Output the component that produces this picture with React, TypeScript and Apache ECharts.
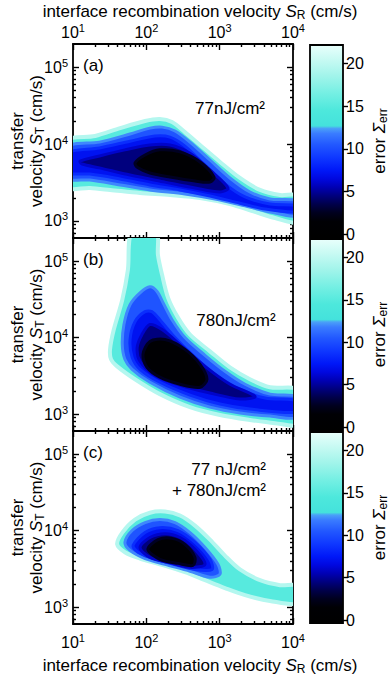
import React, { useEffect, useRef } from 'react';
import * as echarts from 'echarts';

const FONT = '"Liberation Sans", Arial, Helvetica, sans-serif';

// ---------- axes ----------
const X_MIN = 10;
const X_MAX = 10000;
const Y_MIN = 600;
const Y_MAX = 200000;
const X_MAJOR = [10, 100, 1000, 10000];
const X_MINOR = [20, 30, 40, 50, 60, 70, 80, 90, 200, 300, 400, 500, 600, 700, 800, 900, 2000, 3000, 4000, 5000, 6000, 7000, 8000, 9000];
const Y_MAJOR = [1000, 10000, 100000];
const Y_MINOR = [700, 800, 900, 2000, 3000, 4000, 5000, 6000, 7000, 8000, 9000, 20000, 30000, 40000, 50000, 60000, 70000, 80000, 90000];
const ERR_MIN = -0.35;
const ERR_MAX = 22.2;
const ERR_TICKS = [0, 5, 10, 15, 20];

const PANEL_LABELS = ['(a)', '(b)', '(c)'];
const FLUENCE_LABELS = [['77nJ/cm²'], ['780nJ/cm²'], ['77 nJ/cm²', '+ 780nJ/cm²']];

// colormap of the error Σerr (value, colour)
const CMAP: [number, string][] = [
  [-0.35, '#000000'], [1.5, '#000004'], [2.5, '#00001e'], [3.5, '#00004a'], [4.5, '#00007e'],
  [5.5, '#0000b4'], [6.5, '#0008e0'], [7.5, '#0018f8'], [9, '#0f38ff'], [10.5, '#2258ff'],
  [11.8, '#3a7cff'], [12.4, '#4aa0f8'], [12.7, '#44e2dc'], [14.5, '#4de8dc'], [16.5, '#74efe3'],
  [18.5, '#a0f4ea'], [20.5, '#c8faf3'], [22.2, '#e9fffc'],
];

// ---------- contour outlines [S_R, S_T] ----------
// panel (a) 77 nJ/cm²
const A_OUTER = [[8, 10900], [20, 12700], [44, 16100], [96, 19900], [153, 21100], [224, 19300], [336, 14300], [540, 9700], [1010, 5850], [1890, 3620], [3550, 2530], [6650, 2170], [12000, 2110], [12000, 970], [5690, 1090], [3030, 1310], [1380, 1660], [540, 1990], [210, 2170], [82, 2310], [32, 2530], [17, 2680], [8, 2770]];
const A_BLUE = [[8, 9100], [23, 10600], [60, 13500], [112, 16100], [164, 16600], [246, 14800], [394, 10600], [738, 6200], [1380, 3620], [2590, 2380], [4860, 1930], [12000, 1800], [12000, 1160], [4860, 1310], [2220, 1570], [863, 1930], [336, 2240], [112, 2530], [37, 3030], [17, 3400], [8, 3620]];
const A_MID = [[8, 7600], [23, 8900], [60, 10900], [131, 12700], [210, 12300], [336, 9400], [631, 5300], [1180, 3030], [2220, 2050], [4860, 1660], [12000, 1570], [12000, 1310], [4150, 1430], [1890, 1700], [738, 2110], [288, 2530], [112, 2940], [37, 3620], [17, 4070], [8, 4300]];
const A_NAVY = [[12.5, 6000], [23, 7000], [51, 8400], [112, 9700], [210, 9700], [394, 7600], [738, 4600], [1300, 2680], [1010, 2380], [461, 2680], [180, 3200], [60, 3950], [23, 4900], [13.3, 5500]];
const A_CORE = [[70, 5670], [96, 7200], [153, 8400], [288, 7900], [540, 5850], [838, 3720], [738, 3200], [461, 3300], [210, 3720], [112, 4200], [77, 4900]];

// panel (b) 780 nJ/cm²
const B_OUTER = [[64, 250000], [56, 76000], [47, 31200], [36, 12700], [32, 7000], [33, 5200], [40, 4200], [70, 2850], [153, 1820], [394, 1230], [1010, 970], [2590, 835], [5690, 760], [12000, 740], [12000, 2050], [4860, 2240], [2590, 2850], [1380, 4070], [738, 6600], [394, 10900], [270, 18200], [198, 33000], [164, 66000], [144, 120000], [136, 250000]];
const B_BLUE = [[112, 46000], [82, 38400], [60, 26900], [49.5, 14800], [47, 8100], [51, 5200], [64, 3840], [112, 2600], [288, 1660], [738, 1230], [1890, 1030], [4860, 940], [12000, 910], [12000, 1660], [4860, 1820], [2220, 2450], [1180, 3620], [631, 5850], [336, 10000], [224, 17100], [169, 28500], [140, 40000]];
const B_MID = [[96, 21800], [70, 16100], [60, 9400], [64, 5500], [82, 3840], [153, 2600], [394, 1770], [1010, 1350], [2590, 1160], [12000, 1060], [12000, 1480], [4150, 1620], [1890, 2110], [863, 3300], [461, 5500], [246, 10000], [153, 17100], [119, 21800]];
const B_NAVY = [[87, 10900], [112, 14800], [164, 12700], [288, 8100], [631, 4200], [1380, 2450], [3030, 1700], [1890, 1570], [738, 1880], [288, 2380], [131, 3200], [82, 4900], [75, 7400]];
const B_CORE = [[90, 6000], [112, 8900], [180, 9400], [336, 7000], [540, 4450], [672, 2850], [540, 2240], [288, 2450], [153, 3030], [102, 4070]];

// panel (c) 77 + 780 nJ/cm²
const C_OUTER = [[40, 6600], [47, 9400], [70, 13900], [112, 17100], [180, 17700], [288, 15700], [461, 11600], [738, 7600], [1180, 4700], [1890, 3100], [3550, 2240], [6650, 1930], [12000, 1880], [12000, 1120], [4860, 1200], [2220, 1430], [1180, 1770], [631, 2240], [336, 2850], [153, 3620], [82, 4300], [51, 5200]];
const C_BLUE = [[51, 7000], [64, 10000], [96, 12700], [153, 13900], [246, 12700], [394, 9400], [631, 6000], [948, 3620], [1010, 2680], [738, 2450], [394, 2940], [180, 3620], [96, 4300], [60, 5500]];
const C_MID = [[66, 6400], [96, 9400], [153, 10900], [270, 10000], [461, 7000], [738, 4200], [787, 3100], [461, 3100], [210, 3720], [112, 4450], [77, 5200]];
const C_NAVY = [[82, 6000], [112, 8100], [180, 9100], [288, 8100], [461, 5670], [631, 3620], [394, 3300], [198, 3840], [112, 4450]];
const C_CORE = [[105, 5670], [144, 7600], [224, 7900], [336, 6600], [461, 4450], [433, 3500], [270, 3720], [153, 4200]];

type Contour = { pts: number[][]; fill: number; stroke?: number; lw?: number };
const mk = (o: number[][], b: number[][], m: number[][], n: number[][], c: number[][]): Contour[] => [
  { pts: o, fill: 15, stroke: 19.5, lw: 4 },
  { pts: b, fill: 10.3, stroke: 12, lw: 3 },
  { pts: m, fill: 7.2, stroke: 8.5, lw: 3 },
  { pts: n, fill: 4.5, stroke: 6, lw: 3 },
  { pts: c, fill: 1.2, stroke: 2.6, lw: 3 },
];
const PANELS: Contour[][] = [
  mk(A_OUTER, A_BLUE, A_MID, A_NAVY, A_CORE),
  mk(B_OUTER, B_BLUE, B_MID, B_NAVY, B_CORE),
  mk(C_OUTER, C_BLUE, C_MID, C_NAVY, C_CORE),
];

// ---------- layout ----------
const TOPS = [44, 238, 431];
const HEIGHTS = [194, 193, 193];
const PLOT_LEFT = 73;
const PLOT_W = 220;
const CB_LEFT = 310;
const CB_W = 33;

function hex(h: string) {
  return [parseInt(h.slice(1, 3), 16), parseInt(h.slice(3, 5), 16), parseInt(h.slice(5, 7), 16)];
}
function colorAt(v: number): string {
  if (v <= CMAP[0][0]) return CMAP[0][1];
  for (let i = 1; i < CMAP.length; i++) {
    if (v <= CMAP[i][0]) {
      const t = (v - CMAP[i - 1][0]) / (CMAP[i][0] - CMAP[i - 1][0]);
      const a = hex(CMAP[i - 1][1]);
      const b = hex(CMAP[i][1]);
      const c = a.map((x, k) => Math.round(x + (b[k] - x) * t));
      return `rgb(${c[0]},${c[1]},${c[2]})`;
    }
  }
  return CMAP[CMAP.length - 1][1];
}

const powLabel = (v: number) => `{b|10}{s|${Math.round(Math.log10(v))}}`;
const POW_RICH = {
  b: { fontSize: 16, fontFamily: FONT, color: '#000', lineHeight: 20 },
  s: { fontSize: 11, fontFamily: FONT, color: '#000', lineHeight: 11, verticalAlign: 'top' },
};
const TITLE_RICH = {
  n: { fontSize: 17, fontFamily: FONT, fill: '#000', lineHeight: 19 },
  i: { fontSize: 17, fontFamily: FONT, fill: '#000', fontStyle: 'italic', lineHeight: 19 },
  sub: { fontSize: 12, fontFamily: FONT, fill: '#000', lineHeight: 11, verticalAlign: 'bottom' },
};

const LINE = { color: '#000', width: 1.8 };

function logAxis(dim: 'x' | 'y', grid: number, position: string, major: boolean, labels: boolean) {
  const isX = dim === 'x';
  return {
    type: 'log',
    logBase: 10,
    gridIndex: grid,
    position,
    min: isX ? X_MIN : Y_MIN,
    max: isX ? X_MAX : Y_MAX,
    axisLine: major ? { show: true, onZero: false, lineStyle: LINE } : { show: false },
    axisTick: {
      show: true,
      inside: true,
      length: major ? 6 : 3,
      lineStyle: { color: '#000', width: 1.4 },
      customValues: major ? (isX ? X_MAJOR : Y_MAJOR) : (isX ? X_MINOR : Y_MINOR),
    },
    minorTick: { show: false },
    splitLine: { show: false },
    axisLabel: labels
      ? {
          show: true,
          customValues: isX ? X_MAJOR : Y_MAJOR,
          formatter: powLabel,
          rich: POW_RICH,
          margin: isX ? (position === 'top' ? 2 : 8) : 5,
        }
      : { show: false },
  };
}

function buildOption() {
  const grid: any[] = [];
  const xAxis: any[] = [];
  const yAxis: any[] = [];
  const series: any[] = [];
  const graphic: any[] = [];

  for (let p = 0; p < 3; p++) {
    grid.push({ left: PLOT_LEFT, top: TOPS[p], width: PLOT_W, height: HEIGHTS[p], containLabel: false, outerBoundsMode: 'none' });
  }
  for (let p = 0; p < 3; p++) {
    grid.push({ left: CB_LEFT, top: TOPS[p] + 1, width: CB_W, height: HEIGHTS[p] - 2, containLabel: false, outerBoundsMode: 'none' });
  }
  for (let p = 0; p < 3; p++) {
    xAxis.push(logAxis('x', p, 'bottom', true, p === 2));
    xAxis.push(logAxis('x', p, 'bottom', false, false));
    xAxis.push(logAxis('x', p, 'top', true, p === 0));
    xAxis.push(logAxis('x', p, 'top', false, false));
    yAxis.push(logAxis('y', p, 'left', true, true));
    yAxis.push(logAxis('y', p, 'left', false, false));
    yAxis.push(logAxis('y', p, 'right', true, false));
    yAxis.push(logAxis('y', p, 'right', false, false));
  }
  for (let p = 0; p < 3; p++) {
    xAxis.push({ type: 'value', gridIndex: 3 + p, min: 0, max: 1, show: false });
    yAxis.push({
      type: 'value',
      gridIndex: 3 + p,
      position: 'right',
      min: ERR_MIN,
      max: ERR_MAX,
      axisLine: { show: false, onZero: false },
      axisTick: { show: true, inside: false, length: 5, lineStyle: { color: '#000', width: 1.4 }, customValues: ERR_TICKS },
      splitLine: { show: false },
      axisLabel: { show: true, customValues: ERR_TICKS, margin: 3, color: '#000', fontSize: 16, fontFamily: FONT },
    });
  }

  const stops = CMAP.map(([v, c]) => ({ offset: (v - ERR_MIN) / (ERR_MAX - ERR_MIN), color: c }));

  for (let p = 0; p < 3; p++) {
    const contours = PANELS[p];
    series.push({
      type: 'custom',
      xAxisIndex: 4 * p,
      yAxisIndex: 4 * p,
      clip: true,
      silent: true,
      z: 1,
      data: contours.map((c) => c.pts[0]),
      renderItem: (params: any, api: any) => {
        const c = contours[params.dataIndex];
        const points = c.pts.map((pt) => api.coord(pt));
        return {
          type: 'polygon',
          shape: { points, smooth: 0.3 },
          style: {
            fill: colorAt(c.fill),
            stroke: c.stroke != null ? colorAt(c.stroke) : null,
            lineWidth: c.lw || 0,
            lineJoin: 'round',
          },
        };
      },
    });
    series.push({
      type: 'custom',
      xAxisIndex: 12 + p,
      yAxisIndex: 12 + p,
      silent: true,
      z: 1,
      data: [[0, ERR_MIN]],
      renderItem: (params: any, api: any) => {
        const a = api.coord([0, ERR_MIN]);
        const b = api.coord([1, ERR_MAX]);
        return {
          type: 'rect',
          shape: { x: a[0], y: b[1], width: b[0] - a[0], height: a[1] - b[1] },
          style: {
            fill: new echarts.graphic.LinearGradient(0, 1, 0, 0, stops),
            stroke: '#000',
            lineWidth: 1.8,
          },
        };
      },
    });

    const cy = TOPS[p] + HEIGHTS[p] / 2;
    graphic.push({
      type: 'text', x: 17, y: cy, rotation: Math.PI / 2,
      style: { text: 'transfer', fontSize: 17, fontFamily: FONT, fill: '#000', align: 'center', verticalAlign: 'middle' },
    });
    graphic.push({
      type: 'text', x: 36, y: cy, rotation: Math.PI / 2,
      style: { text: '{n|velocity }{i|S}{sub|T}{n| (cm/s)}', rich: TITLE_RICH, fill: '#000', align: 'center', verticalAlign: 'middle' },
    });
    graphic.push({
      type: 'text', x: 379, y: cy, rotation: Math.PI / 2,
      style: { text: '{n|error }{i|Σ}{sub|err}', rich: TITLE_RICH, fill: '#000', align: 'center', verticalAlign: 'middle' },
    });
    graphic.push({
      type: 'text', x: 83, y: TOPS[p] + 21, z: 10,
      style: { text: PANEL_LABELS[p], fontSize: 17, fontFamily: FONT, fill: '#000', align: 'left', verticalAlign: 'middle' },
    });
  }

  graphic.push({ type: 'text', x: 230, y: 108, z: 10, style: { text: FLUENCE_LABELS[0][0], fontSize: 17, fontFamily: FONT, fill: '#000', align: 'center', verticalAlign: 'middle' } });
  graphic.push({ type: 'text', x: 236, y: 320, z: 10, style: { text: FLUENCE_LABELS[1][0], fontSize: 17, fontFamily: FONT, fill: '#000', align: 'center', verticalAlign: 'middle' } });
  graphic.push({ type: 'text', x: 266, y: 469, z: 10, style: { text: FLUENCE_LABELS[2][0], fontSize: 17, fontFamily: FONT, fill: '#000', align: 'right', verticalAlign: 'middle' } });
  graphic.push({ type: 'text', x: 266, y: 490, z: 10, style: { text: FLUENCE_LABELS[2][1], fontSize: 17, fontFamily: FONT, fill: '#000', align: 'right', verticalAlign: 'middle' } });

  graphic.push({
    type: 'text', x: 200, y: 11,
    style: { text: '{n|interface recombination velocity }{i|S}{sub|R}{n| (cm/s)}', rich: TITLE_RICH, fill: '#000', align: 'center', verticalAlign: 'middle' },
  });
  graphic.push({
    type: 'text', x: 200, y: 665,
    style: { text: '{n|interface recombination velocity }{i|S}{sub|R}{n| (cm/s)}', rich: TITLE_RICH, fill: '#000', align: 'center', verticalAlign: 'middle' },
  });

  return {
    animation: false,
    backgroundColor: '#ffffff',
    grid,
    xAxis,
    yAxis,
    series,
    graphic,
  };
}

export default function App() {
  const ref = useRef<HTMLDivElement>(null);
  useEffect(() => {
    const chart = echarts.init(ref.current as HTMLDivElement, null, { renderer: 'svg' });
    chart.setOption(buildOption() as any);
    return () => chart.dispose();
  }, []);
  return <div ref={ref} style={{ position: 'absolute', left: 0, top: 0, width: 392, height: 677 }} />;
}
